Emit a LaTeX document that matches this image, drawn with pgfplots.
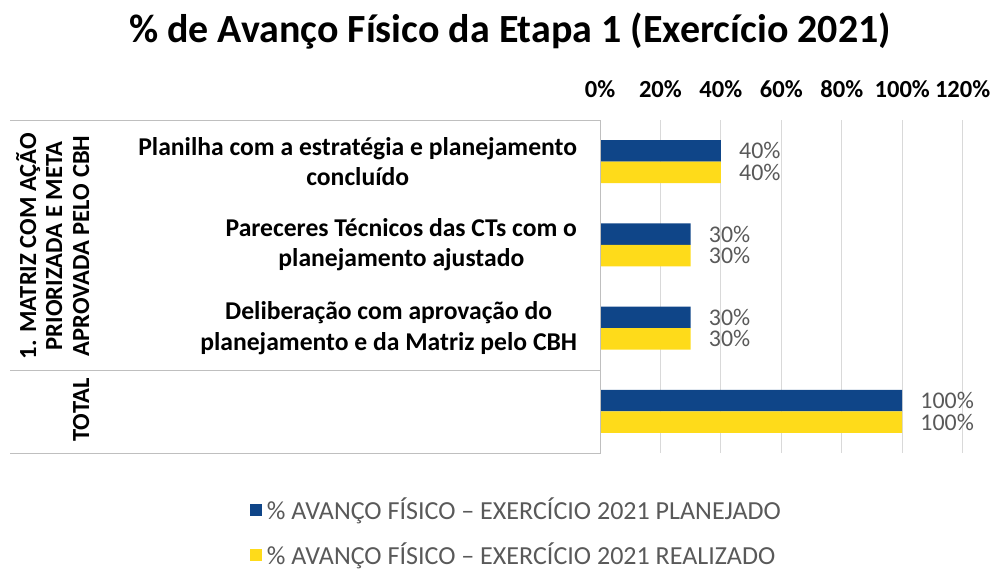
\documentclass[border=0pt]{standalone}
\usepackage{fontspec}
\setmainfont{Carlito}
\usepackage{pgfplots}
\pgfplotsset{compat=1.18}
\definecolor{planblue}{HTML}{0F4588}
\definecolor{realyellow}{HTML}{FEDB1A}
\definecolor{gridgray}{HTML}{D9D9D9}
\definecolor{linegray}{HTML}{BFBFBF}
\definecolor{labgray}{HTML}{595959}
\newcommand{\lab}{\fontsize{18.5}{22.5}\selectfont}
\newcommand{\cat}{\fontsize{19.3}{22.8}\selectfont}
\begin{document}
\begin{tikzpicture}
% page frame: 1000 x 571 px at 0.75bp per px
\path (0bp,0bp) rectangle (750bp,-428.25bp);
\node[font=\bfseries\fontsize{30.1}{34}\selectfont, anchor=base] at (382.5bp,-31.5bp)
  {\% de Avanço Físico da Etapa 1 (Exercício 2021)};
\begin{axis}[
  at={(450bp,-90bp)}, anchor=north west,
  scale only axis, width=272bp, height=249.75bp,
  xbar, bar width=16.1bp,
  xmin=0, xmax=120,
  ymin=-0.5, ymax=3.5, y dir=reverse,
  xtick={0,20,...,120},
  xticklabels={0\%,20\%,40\%,60\%,80\%,100\%,120\%},
  xticklabel pos=right,
  xticklabel style={font=\bfseries\lab, anchor=base, yshift=17bp},
  ytick={0,1,2,3},
  yticklabels={{Planilha com a estratégia e planejamento\\concluído},
    {Pareceres Técnicos das CTs com o\\planejamento ajustado},
    {Deliberação com aprovação do\\planejamento e da Matriz pelo CBH},{}},
  yticklabel style={font=\bfseries\cat, align=center, anchor=east, inner sep=0pt, xshift=-17bp},
  major tick length=0pt,
  axis line style={draw=none},
  xmajorgrids, grid style={gridgray, line width=0.75bp},
  clip=false,
  point meta=x,
  nodes near coords={\pgfmathprintnumber[assume math mode=true]{\pgfplotspointmeta}\%},
  nodes near coords style={font=\fontsize{18}{21}\selectfont, text=labgray, anchor=west,
    inner sep=0pt, xshift=13.5bp},
  legend style={at={(axis description cs:-0.976,-0.118)}, anchor=north west,
    draw=none, fill=none, font=\fontsize{19.6}{23}\selectfont, text=labgray, row sep=12bp,
    legend columns=1},
  legend cell align=left,
  sqlegend/.style={legend image code/.code={\fill[##1] (0bp,-4.5bp) rectangle (9bp,4.5bp);
    \path (10.5bp,0bp);}},
]
\addplot[fill=planblue, draw=none, bar shift=8.05bp, sqlegend]
  coordinates {(40,0) (30,1) (30,2) (100,3)};
\addlegendentry{\% AVANÇO FÍSICO – EXERCÍCIO 2021 PLANEJADO}
\addplot[fill=realyellow, draw=none, bar shift=-8.05bp, sqlegend]
  coordinates {(40,0) (30,1) (30,2) (100,3)};
\addlegendentry{\% AVANÇO FÍSICO – EXERCÍCIO 2021 REALIZADO}
\end{axis}
\draw[linegray, line width=0.75bp] (7.5bp,-90bp) -- (450bp,-90bp) -- (450bp,-339.75bp) -- (7.5bp,-339.75bp);
\draw[linegray, line width=0.75bp] (7.5bp,-277.5bp) -- (450bp,-277.5bp);
\begin{scope}[every node/.style={font=\bfseries\lab, rotate=90, anchor=base}]
\node at (27bp,-184.5bp) {1. MATRIZ COM AÇÃO};
\node at (46.5bp,-184.5bp) {PRIORIZADA E META};
\node at (66.75bp,-184.5bp) {APROVADA PELO CBH};
\node at (66.75bp,-307.5bp) {TOTAL};
\end{scope}
\end{tikzpicture}
\end{document}
